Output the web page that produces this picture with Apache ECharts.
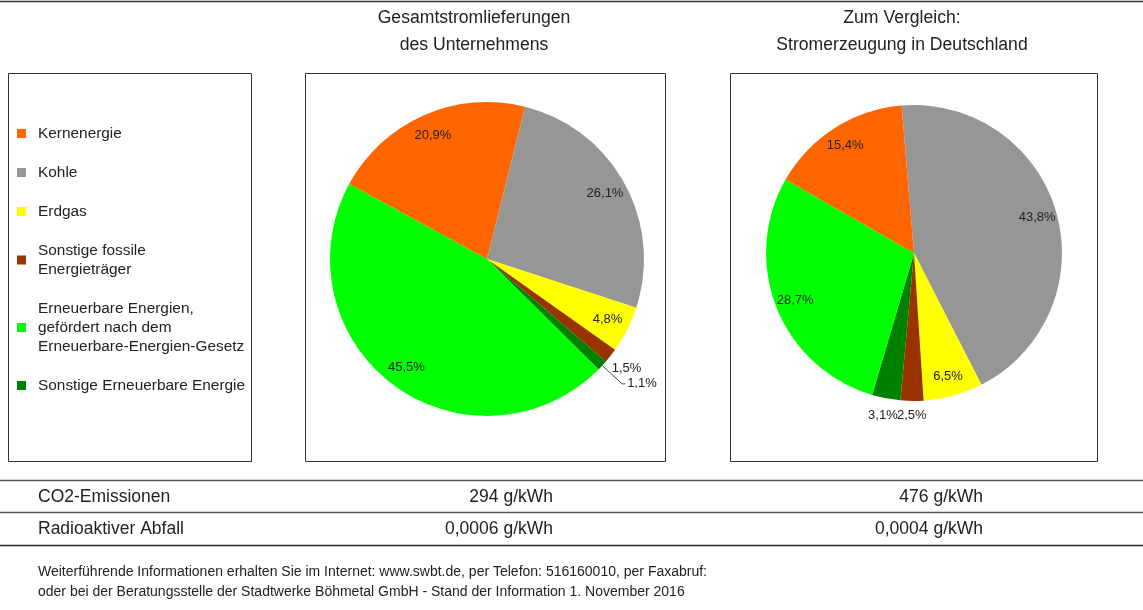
<!DOCTYPE html>
<html><head><meta charset="utf-8">
<script src="https://cdn.jsdelivr.net/npm/echarts@6/dist/echarts.min.js"></script>
<style>html,body{margin:0;padding:0;background:#fff}#c{width:1143px;height:610px}</style>
</head><body><div id="c"></div>
<script>
// ---- data ----
const categories = ['Kernenergie','Kohle','Erdgas','Sonstige fossile Energieträger','Erneuerbare Energien, gefördert nach dem Erneuerbare-Energien-Gesetz','Sonstige Erneuerbare Energie'];
const legendLabels = ['Kernenergie','Kohle','Erdgas','Sonstige fossile\nEnergieträger','Erneuerbare Energien,\ngefördert nach dem\nErneuerbare-Energien-Gesetz','Sonstige Erneuerbare Energie'];
const colors = ['#FF6600','#969696','#FFFF00','#993300','#00FF00','#008000'];
const companyShares = [20.9, 26.1, 4.8, 1.5, 45.5, 1.1];
const germanyShares = [15.4, 43.8, 6.5, 2.5, 28.7, 3.1];
const sliceOrder = [1, 2, 3, 5, 4, 0];   // clockwise order of slices in the pies
const title1 = ['Gesamtstromlieferungen', 'des Unternehmens'];
const title2 = ['Zum Vergleich:', 'Stromerzeugung in Deutschland'];
const rowLabels = ['CO2-Emissionen', 'Radioaktiver Abfall'];
const companyValues = ['294 g/kWh', '0,0006 g/kWh'];
const germanyValues = ['476 g/kWh', '0,0004 g/kWh'];
const footerLines = ['Weiterführende Informationen erhalten Sie im Internet: www.swbt.de, per Telefon: 516160010, per Faxabruf:',
  'oder bei der Beratungsstelle der Stadtwerke Böhmetal GmbH - Stand der Information 1. November 2016'];

const FONT = '"Liberation Sans", Arial, Helvetica, sans-serif';
const TXT = '#222';
const fmt = p => p.value.toFixed(1).replace('.', ',') + '%';
const labelFont = { fontFamily: FONT, fontSize: 13, color: TXT };

function pieSeries(shares, center, r, startAngle, nearK, farList, lineIdx) {
  const base = { type: 'pie', center: center, startAngle: startAngle, clockwise: true,
    avoidLabelOverlap: false, silent: true, emphasis: { disabled: true }, animation: false,
    labelLayout: { hideOverlap: false } };
  const out = [];
  out.push(Object.assign({}, base, {
    radius: r,
    label: Object.assign({ show: false }, labelFont),
    labelLine: { show: false },
    data: sliceOrder.map(i => {
      const d = { name: categories[i], value: shares[i], itemStyle: { color: colors[i] } };
      if (i === lineIdx) {
        d.label = Object.assign({ show: true, position: 'outside', formatter: fmt, distanceToLabelLine: 2 }, labelFont);
        d.labelLine = { show: true, length: 27, length2: 3, lineStyle: { color: '#444', width: 1 } };
      }
      return d;
    })
  }));
  // transparent helper rings that place the value labels at the reference's distance from the centre
  const ring = (k, showFn) => Object.assign({}, base, {
    radius: r * k, z: 3,
    labelLine: { show: false },
    data: sliceOrder.map(i => ({ name: categories[i], value: shares[i],
      itemStyle: { color: 'rgba(0,0,0,0)' },
      label: Object.assign({ show: showFn(i), position: 'inside', formatter: fmt }, labelFont) }))
  });
  out.push(ring(nearK, i => i !== 3 && i !== 5));
  farList.forEach(f => out.push(ring(f[1], i => i === f[0])));
  return out;
}

const graphics = [];
function line(x1, y1, x2, y2, color, w) {
  graphics.push({ type: 'line', shape: { x1, y1, x2, y2 }, style: { stroke: color, lineWidth: w }, silent: true });
}
function rect(x, y, w, h) {
  graphics.push({ type: 'rect', shape: { x, y, width: w, height: h }, style: { fill: 'none', stroke: '#333', lineWidth: 1 }, silent: true });
}
function text(t, x, y, size, align) {
  graphics.push({ type: 'text', x, y, silent: true,
    style: { text: t, font: size + 'px ' + FONT, fill: TXT, align: align, verticalAlign: 'middle', textAlign: align, textVerticalAlign: 'middle' } });
}

line(0, 1.5, 1143, 1.5, '#333', 1.5);
rect(8.5, 73.5, 243, 388);
rect(305.5, 73.5, 360, 388);
rect(730.5, 73.5, 367, 388);
title1.forEach((t, k) => text(t, 474, 18 + k * 27, 17.6, 'center'));
title2.forEach((t, k) => text(t, 902, 18 + k * 27, 17.6, 'center'));
line(0, 480.5, 1143, 480.5, '#555', 1.5);
line(0, 512.5, 1143, 512.5, '#555', 1.5);
line(0, 545.5, 1143, 545.5, '#222', 1.5);
rowLabels.forEach((t, k) => text(t, 38, 497 + k * 32, 17.5, 'left'));
companyValues.forEach((t, k) => text(t, 553, 497 + k * 32, 17.5, 'right'));
germanyValues.forEach((t, k) => text(t, 983, 497 + k * 32, 17.5, 'right'));
footerLines.forEach((t, k) => text(t, 38, 572 + k * 20, 14, 'left'));

const option = {
  backgroundColor: '#fff',
  animation: false,
  legend: {
    orient: 'vertical', left: 12, top: 119, itemWidth: 9, itemHeight: 9, icon: 'rect',
    itemGap: 20, selectedMode: false,
    textStyle: { fontFamily: FONT, fontSize: 15.4, color: TXT, lineHeight: 19, padding: [0, 0, 0, 7] },
    formatter: name => legendLabels[categories.indexOf(name)],
    data: categories.map((c, i) => ({ name: c, itemStyle: { color: colors[i] } }))
  },
  series: [].concat(
    pieSeries(companyShares, [487, 259], 157, 76, 1.68, [[3, 2.22]], 5),
    pieSeries(germanyShares, [914, 253], 148, 94.8, 1.69, [[3, 2.15], [5, 2.19]], -1)
  ),
  graphic: { elements: graphics }
};
const chart = echarts.init(document.getElementById('c'), null, { renderer: 'canvas' });
chart.setOption(option);
</script></body></html>
